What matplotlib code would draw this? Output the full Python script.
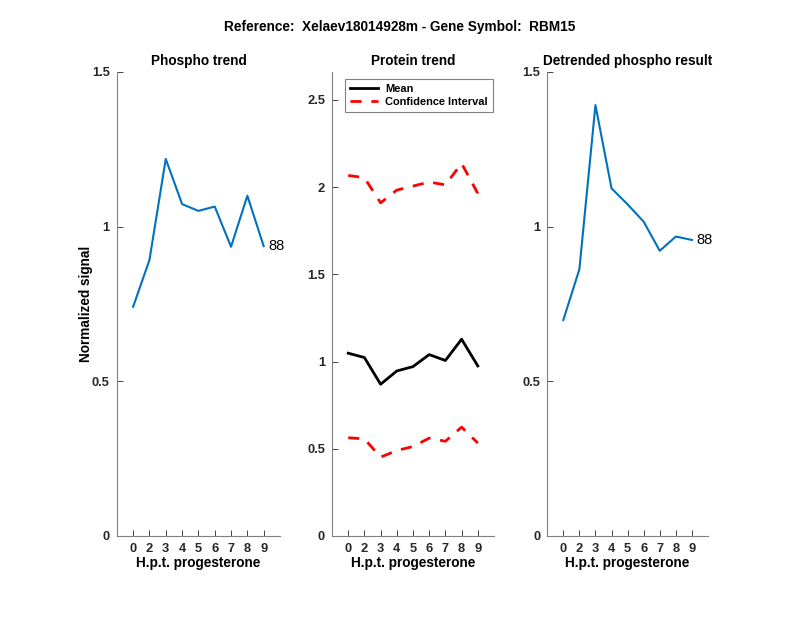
import matplotlib.pyplot as plt

plt.rcParams['font.family'] = ['Liberation Sans', 'DejaVu Sans']

time_labels = ["0", "2", "3", "4", "5", "6", "7", "8", "9"]
phospho = [0.741, 0.892, 1.219, 1.073, 1.051, 1.065, 0.935, 1.100, 0.937]
protein_mean = [1.048, 1.023, 0.870, 0.946, 0.971, 1.040, 1.006, 1.128, 0.975]
protein_upper = [2.067, 2.054, 1.910, 1.983, 2.006, 2.029, 2.013, 2.136, 1.964]
protein_lower = [0.563, 0.557, 0.452, 0.490, 0.513, 0.561, 0.543, 0.624, 0.533]
detrended = [0.698, 0.862, 1.393, 1.124, 1.072, 1.016, 0.922, 0.968, 0.957]
peptide_label = "88"

blue = "#0072BD"
axis_gray = "#262626"
x = list(range(1, len(time_labels) + 1))

fig = plt.figure(figsize=(8, 6.18), dpi=100)
ax1 = fig.add_axes([0.146, 0.1327, 0.204, 0.7508])
ax2 = fig.add_axes([0.415, 0.1327, 0.2025, 0.7508])
ax3 = fig.add_axes([0.684, 0.1327, 0.201, 0.7508])


def style(ax, title, ymax, yticks, ylabels):
    ax.set_xlim(0, len(time_labels) + 1)
    ax.set_ylim(0, ymax)
    ax.set_xticks(x)
    ax.set_xticklabels(time_labels, fontweight="bold", fontsize=9.3)
    ax.set_yticks(yticks)
    ax.set_yticklabels(ylabels, fontweight="bold", fontsize=9.3)
    ax.tick_params(direction="in", length=4, colors=axis_gray, width=0.6, pad=5)
    for s in ["top", "right"]:
        ax.spines[s].set_visible(False)
    for s in ["left", "bottom"]:
        ax.spines[s].set_color("#808080")
        ax.spines[s].set_linewidth(0.8)
    ax.set_title(title, fontweight="bold", fontsize=9.8, pad=5)
    ax.set_xlabel("H.p.t. progesterone", fontweight="bold", fontsize=9.8, labelpad=1)


ax1.plot(x, phospho, color=blue, lw=1.5)
ax1.text(x[-1] + 0.3, phospho[-1], peptide_label, fontsize=10.5, va="center", ha="left")
style(ax1, "Phospho trend", 1.5, [0, 0.5, 1, 1.5], ["0", "0.5", "1", "1.5"])
ax1.set_ylabel("Normalized signal", fontweight="bold", fontsize=9.8, labelpad=-1)

ax2.plot(x, protein_mean, color="black", lw=2, label="Mean")
ax2.plot(x, protein_upper, color="red", lw=2, ls=(0, (4, 3.5)), label="Confidence Interval")
ax2.plot(x, protein_lower, color="red", lw=2, ls=(0, (4, 3.5)))
style(ax2, "Protein trend", 2.66, [0, 0.5, 1, 1.5, 2, 2.5], ["0", "0.5", "1", "1.5", "2", "2.5"])
leg = ax2.legend(loc="upper left", bbox_to_anchor=(0.08, 0.985),
                 prop={"weight": "bold", "size": 7.9}, fancybox=False, framealpha=1,
                 handlelength=2.6, borderpad=0.45, labelspacing=0.3, handletextpad=0.6,
                 borderaxespad=0)
leg.get_frame().set_edgecolor("#808080")
leg.get_frame().set_linewidth(0.8)

ax3.plot(x, detrended, color=blue, lw=1.5)
ax3.text(x[-1] + 0.3, detrended[-1], peptide_label, fontsize=10.5, va="center", ha="left")
style(ax3, "Detrended phospho result", 1.5, [0, 0.5, 1, 1.5], ["0", "0.5", "1", "1.5"])

fig.suptitle("Reference:  Xelaev18014928m - Gene Symbol:  RBM15", fontweight="bold",
             fontsize=9.8, y=0.968)

fig.savefig("out.png", dpi=100)
